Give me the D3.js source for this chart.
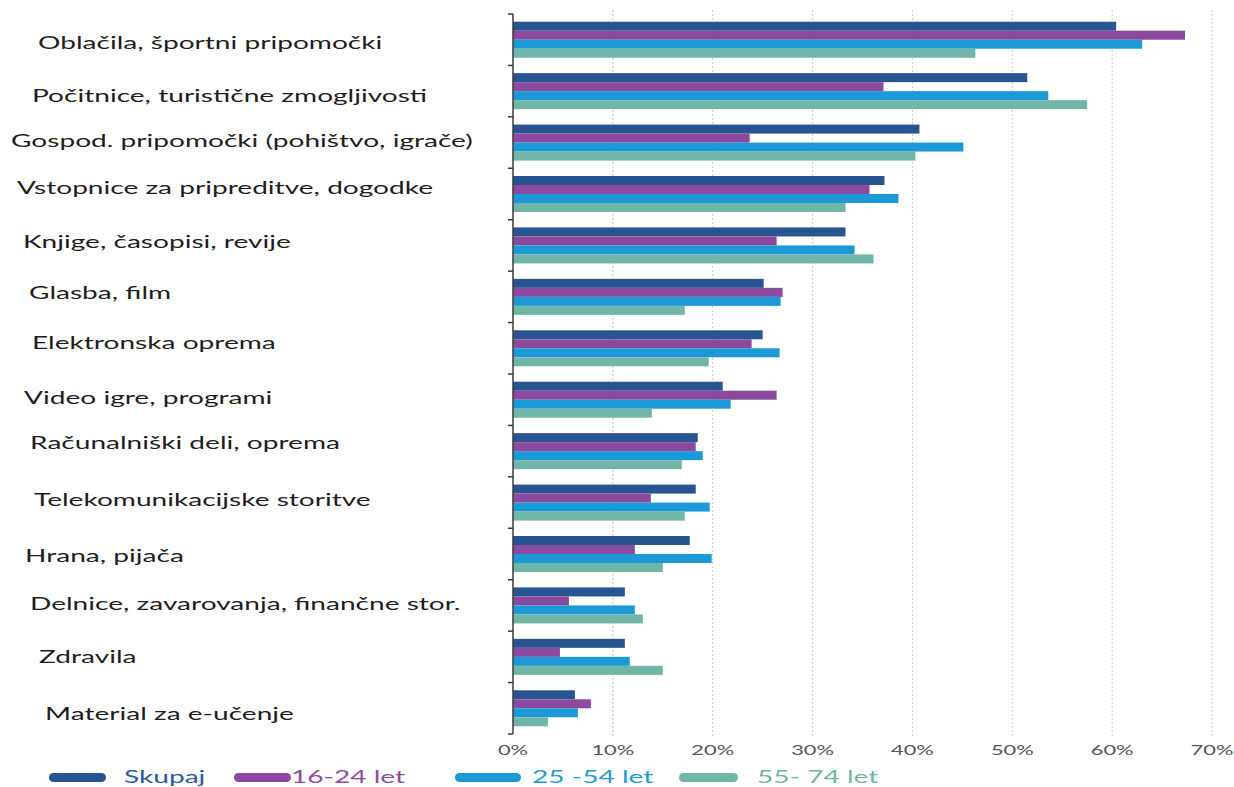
<!DOCTYPE html>
<html>
<head>
<meta charset="utf-8">
<script src="https://cdn.jsdelivr.net/npm/d3@7"></script>
<style>
  body { margin: 0; background: #ffffff; }
  svg { display: block; }
</style>
</head>
<body>
<svg id="chart" width="1234" height="787"></svg>
<script>
// Online purchases by product type and age group (share of buyers, %)
const categories = [
  "Oblačila, športni pripomočki",
  "Počitnice, turistične zmogljivosti",
  "Gospod. pripomočki (pohištvo, igrače)",
  "Vstopnice za pripreditve, dogodke",
  "Knjige, časopisi, revije",
  "Glasba, film",
  "Elektronska oprema",
  "Video igre, programi",
  "Računalniški deli, oprema",
  "Telekomunikacijske storitve",
  "Hrana, pijača",
  "Delnice, zavarovanja, finančne stor.",
  "Zdravila",
  "Material za e-učenje"
];
const seriesNames = ["Skupaj", "16-24 let", "25 -54 let", "55- 74 let"];
const skupaj    = [60.4, 51.5, 40.7, 37.2, 33.3, 25.1, 25.0, 21.0, 18.5, 18.3, 17.7, 11.2, 11.2, 6.2];
const age16to24 = [67.3, 37.1, 23.7, 35.7, 26.4, 27.0, 23.9, 26.4, 18.3, 13.8, 12.2, 5.6, 4.7, 7.8];
const age25to54 = [63.0, 53.6, 45.1, 38.6, 34.2, 26.8, 26.7, 21.8, 19.0, 19.7, 19.9, 12.2, 11.7, 6.5];
const age55to74 = [46.3, 57.5, 40.3, 33.3, 36.1, 17.2, 19.6, 13.9, 16.9, 17.2, 15.0, 13.0, 15.0, 3.5];
const xTicks = [0, 10, 20, 30, 40, 50, 60, 70];

// Styling / layout
const barColors  = ["#285592", "#8b4a9d", "#1b9ad7", "#70b6a8"];
const textColors = ["#2b5a97", "#8e4c9f", "#1f9ad5", "#6fb5a7"];
const stretch = 1.56;         // horizontal widening of all lettering
const labelFont = "Lato, 'Open Sans', sans-serif";
// small hand-placed nudges of the category captions (dx from left margin, dy from band centre)
const labelDx = [38, 32, 11, 17, 23, 29, 32, 24, 30, 34, 25, 30, 39, 45];
const labelDy = [3, 5, -2, -6, -4, -4, -6, -2, -8, -3, 2, -2, 0, 5];

const svg = d3.select("#chart");
const x0 = 513, x1 = 1212, yTop = 14, yBottom = 734;

const x = d3.scaleLinear().domain([0, 70]).range([x0, x1]);
const y = d3.scaleBand().domain(categories).range([yTop, yBottom])
  .paddingInner(0.3).paddingOuter(0.15);
const ySub = d3.scaleBand().domain(seriesNames).range([0, y.bandwidth()]);

const series = [skupaj, age16to24, age25to54, age55to74];

// dotted vertical gridlines
svg.append("g").selectAll("line")
  .data(xTicks.filter(t => t > 0))
  .join("line")
  .attr("x1", d => x(d)).attr("x2", d => x(d))
  .attr("y1", 10).attr("y2", 738)
  .attr("stroke", "#c9c9c9").attr("stroke-width", 1)
  .attr("stroke-dasharray", "2,2");

// bars
const groups = svg.append("g").selectAll("g")
  .data(categories)
  .join("g")
  .attr("transform", d => `translate(0,${y(d)})`);

groups.selectAll("rect")
  .data((c, i) => seriesNames.map((s, k) => ({ s, k, v: series[k][i] })))
  .join("rect")
  .attr("x", x(0))
  .attr("y", d => ySub(d.s))
  .attr("width", d => x(d.v) - x(0))
  .attr("height", ySub.bandwidth())
  .attr("fill", d => barColors[d.k]);

// category axis line with ticks at band boundaries
const boundaries = categories.map(c => y(c) - y.step() * y.paddingInner() / 2);
boundaries.push(yBottom);
svg.append("line")
  .attr("x1", x0).attr("x2", x0)
  .attr("y1", yTop).attr("y2", yBottom)
  .attr("stroke", "#3a3a3a").attr("stroke-width", 1.5);
svg.append("g").selectAll("line")
  .data(boundaries)
  .join("line")
  .attr("x1", x0 - 5).attr("x2", x0)
  .attr("y1", d => d).attr("y2", d => d)
  .attr("stroke", "#3a3a3a").attr("stroke-width", 1.5);

// category captions
svg.append("g").selectAll("text")
  .data(categories)
  .join("text")
  .attr("transform", (d, i) =>
    `translate(${labelDx[i]},${y(d) + y.bandwidth() / 2 + labelDy[i]}) scale(${stretch},1)`)
  .attr("dy", "0.35em")
  .attr("font-family", labelFont)
  .attr("font-size", 18)
  .attr("fill", "#1e1e1e")
  .text(d => d);

// percentage tick labels
svg.append("g").selectAll("text")
  .data(xTicks)
  .join("text")
  .attr("transform", d => `translate(${x(d)},750) scale(${stretch},1)`)
  .attr("dy", "0.35em")
  .attr("text-anchor", "middle")
  .attr("font-family", labelFont)
  .attr("font-size", 14)
  .attr("fill", "#555555")
  .text(d => d + "%");

// legend
const legendSwatchX = [49, 234, 455, 679];
const legendSwatchW = [57, 57, 66, 59];
const legendTextX = [124, 291, 532, 757];
const legend = svg.append("g").selectAll("g")
  .data(seriesNames)
  .join("g");
legend.append("rect")
  .attr("x", (d, i) => legendSwatchX[i])
  .attr("y", 773)
  .attr("width", (d, i) => legendSwatchW[i])
  .attr("height", 9)
  .attr("rx", 4.5)
  .attr("fill", (d, i) => barColors[i]);
legend.append("text")
  .attr("transform", (d, i) => `translate(${legendTextX[i]},777) scale(${stretch},1)`)
  .attr("dy", "0.35em")
  .attr("font-family", labelFont)
  .attr("font-size", 18)
  .attr("fill", (d, i) => textColors[i])
  .text(d => d);
</script>
</body>
</html>
